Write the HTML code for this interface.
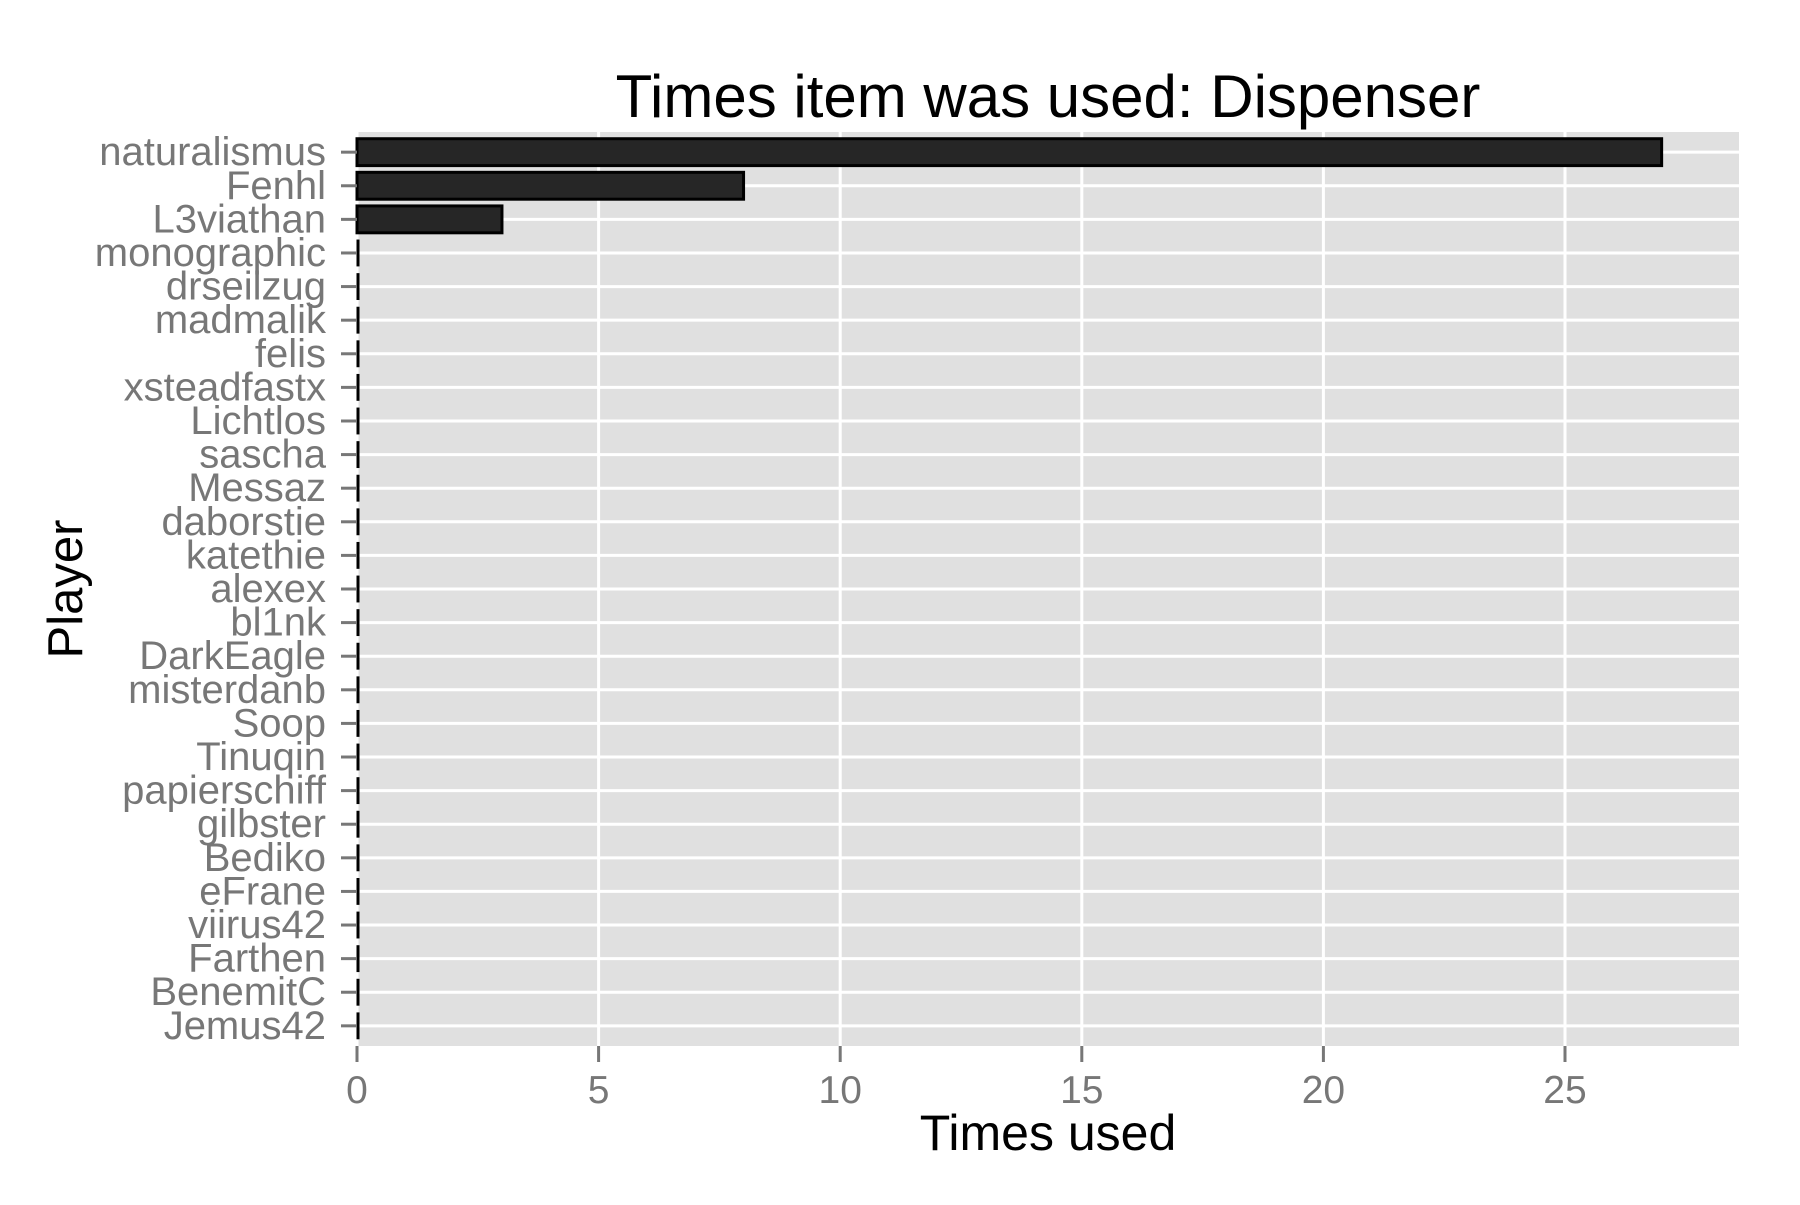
<!DOCTYPE html>
<html><head><meta charset="utf-8"><style>
body{margin:0;background:#fff;}
svg text{font-family:"Liberation Sans",Arial,sans-serif;}
</style></head><body>
<svg id="chart" width="1800" height="1200" viewBox="0 0 1800 1200" xmlns="http://www.w3.org/2000/svg">
<rect x="357" y="132" width="1382" height="914" fill="#e0e0e0"/>
<g id="grid"></g><g id="bars"></g><g id="yaxis"></g><g id="xaxis"></g>
<text x="1048" y="117" font-size="60" text-anchor="middle" fill="#000">Times item was used: Dispenser</text>
<text x="1048" y="1150" font-size="50" text-anchor="middle" fill="#000">Times used</text>
<text x="0" y="0" font-size="49" text-anchor="middle" fill="#000" transform="translate(82,589) rotate(-90)">Player</text>
</svg>
<script>
const players=["naturalismus","Fenhl","L3viathan","monographic","drseilzug","madmalik","felis","xsteadfastx","Lichtlos","sascha","Messaz","daborstie","katethie","alexex","bl1nk","DarkEagle","misterdanb","Soop","Tinuqin","papierschiff","gilbster","Bediko","eFrane","viirus42","Farthen","BenemitC","Jemus42"];
const counts=[27,8,3,0,0,0,0,0,0,0,0,0,0,0,0,0,0,0,0,0,0,0,0,0,0,0,0];
const xTicks=[0,5,10,15,20,25];
const NS="http://www.w3.org/2000/svg";
const L=357,R=1739,T=132,B=1046;
const xs=v=>L+v*((1565-357)/25);
const band=(B-T)/(players.length+0.2);
const ys=i=>T+(0.6+i)*band;
function mk(tag,attrs,parent){const e=document.createElementNS(NS,tag);for(const k in attrs)e.setAttribute(k,attrs[k]);parent.appendChild(e);return e;}
const grid=document.getElementById('grid'),bars=document.getElementById('bars'),ya=document.getElementById('yaxis'),xa=document.getElementById('xaxis');
xTicks.forEach(t=>{
 const g=mk('line',{x1:xs(t),x2:xs(t),y1:T,y2:B,stroke:'#fff','stroke-width':3},grid);
 
 
 const tk=mk('line',{x1:xs(t),x2:xs(t),y1:B,y2:B+16,stroke:'#777','stroke-width':3},xa);
 
 
 const tx=mk('text',{x:xs(t),y:B+57,'font-size':39,'text-anchor':'middle',fill:'#777'},xa);
 tx.textContent=t;
 
 
});
players.forEach((p,i)=>{
 const y=ys(i);
 const g=mk('line',{x1:L,x2:R,y1:y,y2:y,stroke:'#fff','stroke-width':3},grid);
 
 
 const w=Math.max(xs(counts[i])-L,0);
 const h=band*0.8;
 if(w>0){
  const b=mk('rect',{x:L,y:y-h/2,width:w,height:h,fill:'#262626',stroke:'#000','stroke-width':3},bars);
  
  
 } else {
  const b=mk('line',{x1:L+1,x2:L+1,y1:y-h/2,y2:y+h/2,stroke:'#000','stroke-width':3},bars);
  
  
 }
 const tk=mk('line',{x1:L-16,x2:L,y1:y,y2:y,stroke:'#777','stroke-width':3},ya);
 
 
 const tx=mk('text',{x:326,y:y+13,'font-size':40,'text-anchor':'end',fill:'#777'},ya);
 tx.textContent=p;
 
 
});
</script>
</body></html>
